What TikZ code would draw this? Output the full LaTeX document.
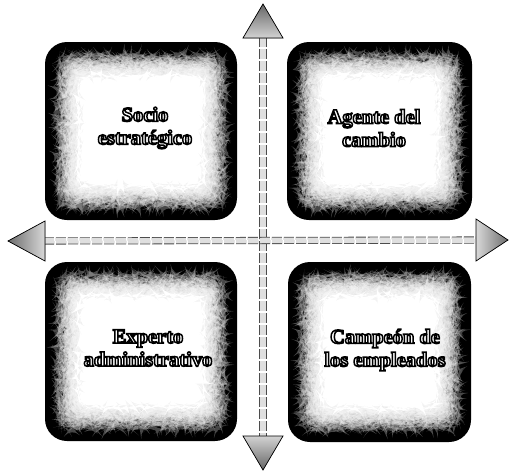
\documentclass[tikz,border=0pt]{standalone}
\usepackage{fontspec}
\setmainfont{Liberation Serif}
\usetikzlibrary{calc,decorations.pathmorphing}
\newcommand\outlinedtext[1]{\special{pdf:literal direct 0 G 2 Tr 1.5 w}#1\special{pdf:literal direct 0 Tr}}
\begin{document}
\begin{tikzpicture}[x=1pt,y=-1pt,
  boxn/.style={inner sep=0pt, outer sep=0pt},
  lbl/.style={font=\bfseries\fontsize{20.5}{23}\selectfont, align=center, text=white},
  shaft/.style={draw=gray!60!black, line width=0.8pt, double=gray!25, double distance=5.5pt, dash pattern=on 10pt off 2pt},
  head/.style={draw=black, line width=0.7pt, line join=miter},
  fuzz/.style={fill=white, opacity=0.28, rounded corners=12pt,
     decorate, decoration={random steps, segment length=2.5pt, amplitude=2pt}}
]
\useasboundingbox (0,0) rectangle (512,474);
\fill[white] (0,0) rectangle (512,474);

\newcommand\fuzzybox[5]{% name, x1, y1, x2, y2
  \node[boxn, minimum width={#4-#2}, minimum height={#5-#3}] (#1) at ({(#2+#4)/2},{(#3+#5)/2}) {};
  \fill[black, rounded corners=22pt] (#1.north west) rectangle (#1.south east);
  \foreach \d in {14,16,...,32} {
    \fill[fuzz] ($(#1.north west)+(\d,\d)$) rectangle ($(#1.south east)+(-\d,-\d)$);
  }
  \fill[fill=white, rounded corners=10pt, decorate, decoration={random steps, segment length=3pt, amplitude=2pt}] ($(#1.north west)+(34,34)$) rectangle ($(#1.south east)+(-34,-34)$);
}

\fuzzybox{b1}{45}{42}{237}{220}
\fuzzybox{b2}{287}{42}{472}{220}
\fuzzybox{b3}{45}{262}{237}{441}
\fuzzybox{b4}{288}{262}{471}{442}

\node[lbl] (t1) at (145,128) {\outlinedtext{Socio}\\\outlinedtext{estratégico}};
\node[lbl] (t2) at (374,128) {\outlinedtext{Agente del}\\\outlinedtext{cambio}};
\node[lbl] (t3) at (148,348) {\outlinedtext{Experto}\\\outlinedtext{administrativo}};
\node[lbl] (t4) at (385,350) {\outlinedtext{Campeón de}\\\outlinedtext{los empleados}};

% arrows
\coordinate (vt) at (263,4);
\coordinate (vb) at (263,470);
\coordinate (hl) at (8,241);
\coordinate (hr) at (508,240);

\draw[shaft] ($(vt)+(0,33)$) -- ($(vb)+(0,-33)$);
\draw[shaft] ($(hl)+(36,0)$) -- ($(hr)+(-31,0)$);

\filldraw[head, top color=gray!80!black, bottom color=gray!35] (vt) -- ++(-20,34) -- ++(40,0) -- cycle;
\filldraw[head, top color=gray!35, bottom color=gray!80!black] (vb) -- ++(-20,-34) -- ++(40,0) -- cycle;
\filldraw[head, left color=gray!85!black, right color=gray!30] (hl) -- ++(37,-20) -- ++(0,40) -- cycle;
\filldraw[head, left color=gray!30, right color=gray!85!black] (hr) -- ++(-32,-21) -- ++(0,42) -- cycle;
\end{tikzpicture}
\end{document}
